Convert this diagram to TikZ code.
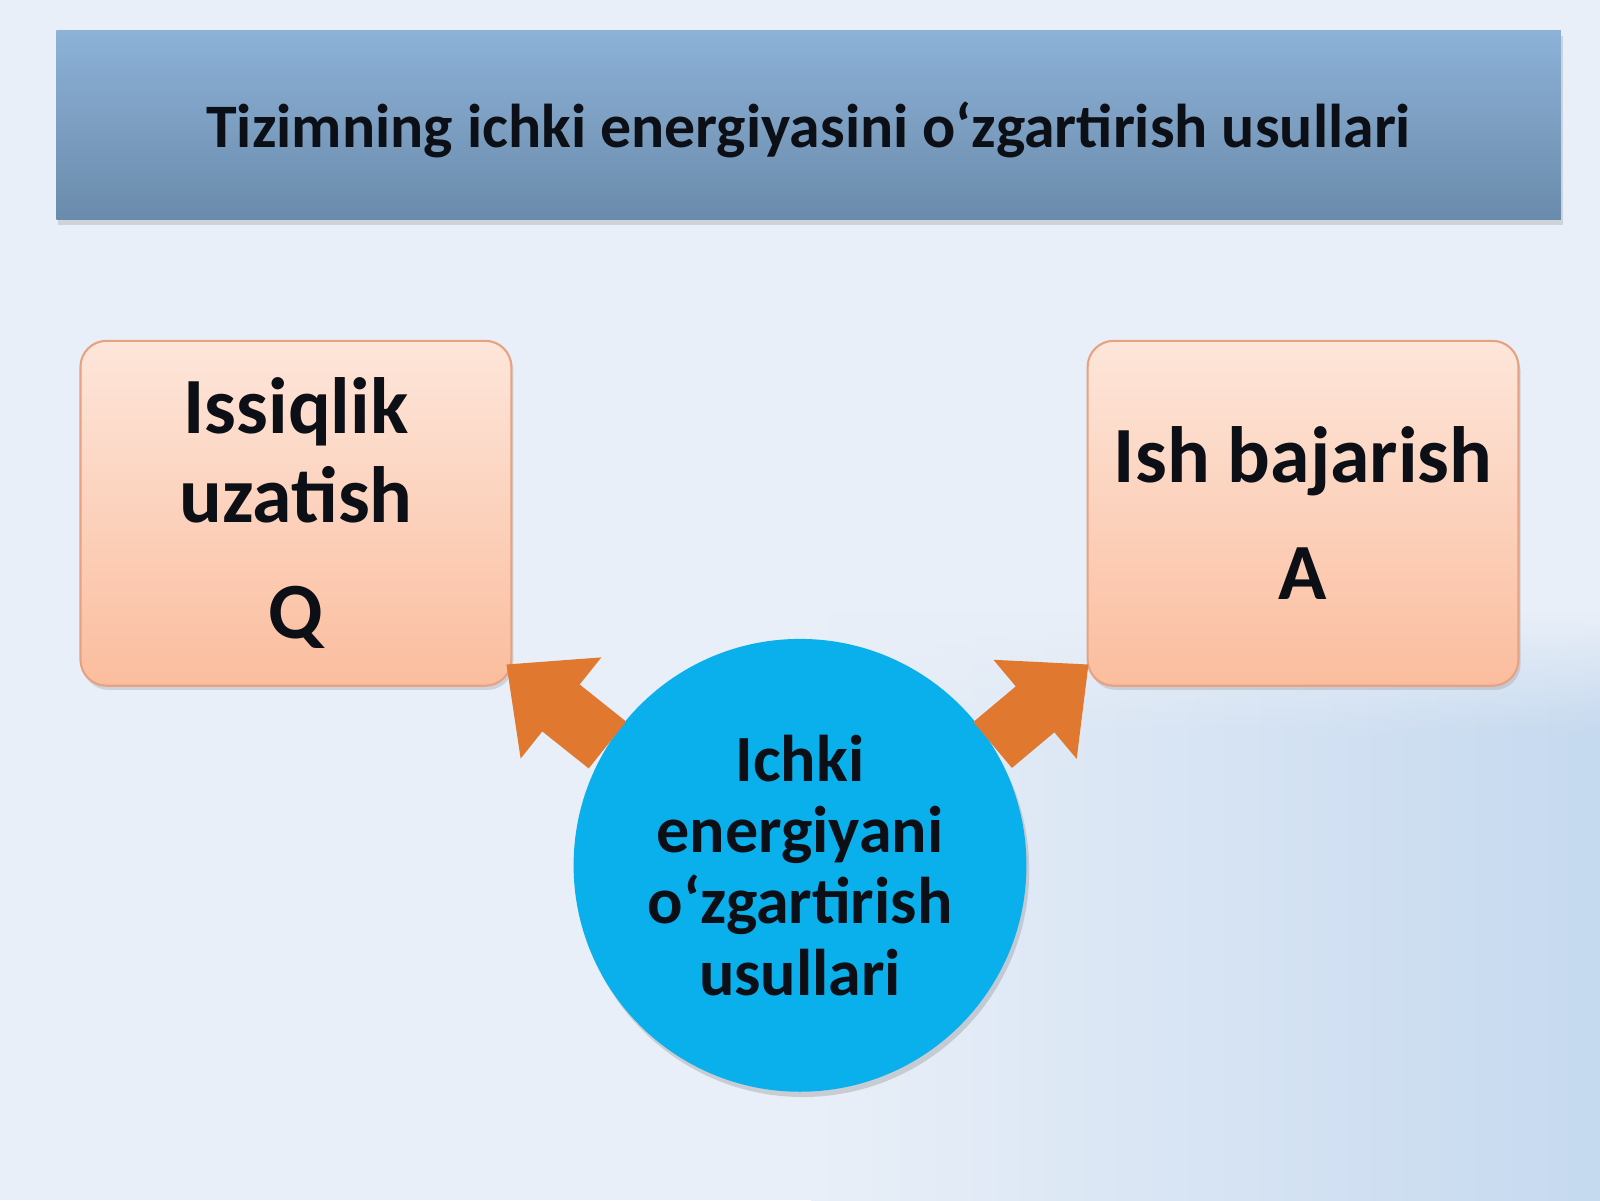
\documentclass[tikz,border=0pt]{standalone}
\usepackage{fontspec}
\setmainfont{Carlito}
\usepackage{tikz}
\usetikzlibrary{arrows.meta}
\usetikzlibrary{calc}
\usetikzlibrary{shadows}
\usetikzlibrary{fadings}

\definecolor{bgcolor}{HTML}{E9EFF8}
\definecolor{bgblue}{HTML}{C5D9EF}
\definecolor{headtop}{HTML}{8DB2D8}
\definecolor{headbottom}{HTML}{6A8BAB}
\definecolor{boxtop}{HTML}{FDE6DA}
\definecolor{boxbottom}{HTML}{FBBD9E}
\definecolor{boxline}{HTML}{E6A283}
\definecolor{coreblue}{HTML}{0AB0EC}
\definecolor{arroworange}{HTML}{E0782F}
\definecolor{ink}{HTML}{0D0F16}

\begin{document}
\begin{tikzpicture}[x=0.010204cm, y=-0.010204cm,
        title_style/.style={rectangle, top color=headtop, bottom color=headbottom, draw=none,
            minimum width=15.05cm, minimum height=1.89cm, inner sep=0pt, text=ink, text depth=0pt,
            font=\fontsize{17.6}{20}\selectfont\bfseries,
            drop shadow={shadow xshift=0.5pt, shadow yshift=-1.5pt, opacity=0.25}},
        box_style/.style={rectangle, rounded corners=0.26cm, draw=boxline, line width=0.6pt,
            top color=boxtop, bottom color=boxbottom, minimum width=4.31cm, minimum height=3.45cm,
            inner sep=0pt, align=center, text=ink, font=\fontsize{22.7}{25.2}\selectfont\bfseries,
            drop shadow={shadow xshift=0.6pt, shadow yshift=-1.2pt, opacity=0.25}},
        core_style/.style={circle, fill=coreblue, minimum size=4.53cm, inner sep=0pt,
            align=center, text=ink, font=\fontsize{18.8}{20.3}\selectfont\bfseries,
            drop shadow={shadow xshift=0.8pt, shadow yshift=-1.5pt, opacity=0.3}},
        arrow_style/.style={draw=arroworange, line width=0.6cm,
            -{Triangle[width=1.25cm, length=0.7cm]}}]

        % background
        \fill[bgcolor] (0,0) rectangle (1568,1176);
        \shade[left color=bgcolor, right color=bgblue] (795,600) rectangle (1568,1176);
        \fill[bgcolor, path fading=south] (795,600) rectangle (1568,720);

        \node [title_style](head) at (792.5,122.5) {Tizimning ichki energiyasini o‘zgartirish usullari};
        \node [box_style](heat) at (290,503) {Issiqlik\\uzatish\\[8pt]Q};
        \node [box_style](work) at (1277,503) {Ish bajarish\\[8pt]A};
        \node [core_style](core) at (784,848) {Ichki\\energiyani\\o‘zgartirish\\usullari};

        \draw [arrow_style] (core.148) -- ($(heat.south east)+(-6,-22)$);
        \draw [arrow_style] (core.32) -- ($(work.south west)+(2,-22)$);
\end{tikzpicture}
\end{document}
